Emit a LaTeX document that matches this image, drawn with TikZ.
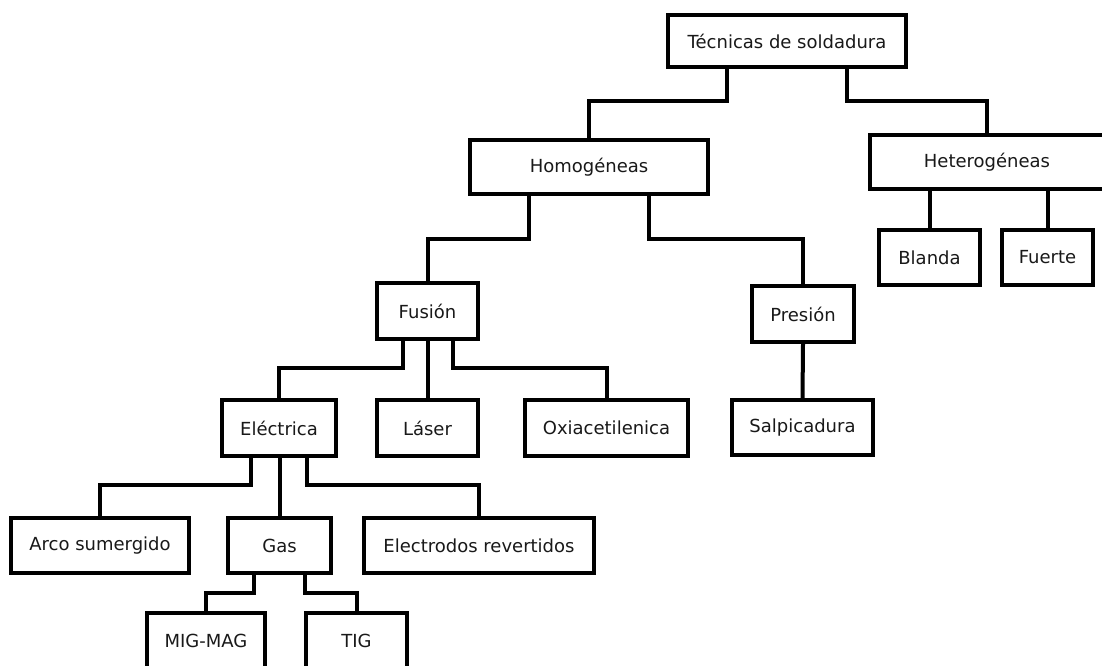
\documentclass[tikz,border=0pt]{standalone}
\usepackage{fontspec}
\setmainfont{DejaVu Sans}
\begin{document}
\begin{tikzpicture}[x=1pt,y=-1pt,
  box/.style={draw=black, line width=4pt, inner sep=0pt, fill=white,
    font=\fontsize{18}{20}\selectfont, text=black!90},
  link/.style={line width=4pt, line join=miter}]
\useasboundingbox (0,0) rectangle (1102,666);
\clip (0,0) rectangle (1102,666);
\fill[white] (0,0) rectangle (1102,666);
% nodes
\node[box, minimum width=238pt, minimum height=52pt] (tec) at (787,41) {Técnicas de soldadura};
\node[box, minimum width=238pt, minimum height=54pt] (hom) at (589,167) {Homogéneas};
\node[box, minimum width=234pt, minimum height=54pt] (het) at (987,162) {Heterogéneas};
\node[box, minimum width=101pt, minimum height=55pt] (bla) at (929.5,257.5) {Blanda};
\node[box, minimum width=91pt, minimum height=55pt] (fue) at (1047.5,257.5) {Fuerte};
\node[box, minimum width=101pt, minimum height=56pt] (fus) at (427.5,311) {Fusión};
\node[box, minimum width=102pt, minimum height=56pt] (pre) at (803,314) {Presión};
\node[box, minimum width=114pt, minimum height=56pt] (ele) at (279,428) {Eléctrica};
\node[box, minimum width=101pt, minimum height=56pt] (las) at (427.5,428) {Láser};
\node[box, minimum width=163pt, minimum height=56pt] (oxi) at (606.5,428) {Oxiacetilenica};
\node[box, minimum width=141pt, minimum height=55pt] (sal) at (802.5,427.5) {Salpicadura};
\node[box, minimum width=178pt, minimum height=55pt] (arc) at (100,545.5) {Arco sumergido};
\node[box, minimum width=103pt, minimum height=55pt] (gas) at (279.5,545.5) {Gas};
\node[box, minimum width=230pt, minimum height=55pt] (elr) at (479,545.5) {Electrodos revertidos};
\node[box, minimum width=118pt, minimum height=56pt] (mig) at (206,641) {MIG-MAG};
\node[box, minimum width=101pt, minimum height=56pt] (tig) at (356.5,641) {TIG};
% bus levels
\coordinate (b1) at (0,101);
\coordinate (b2) at (0,239);
\coordinate (b3) at (0,368);
\coordinate (b4) at (0,485);
\coordinate (b5) at (0,593);
% connectors
\draw[link] ([xshift=-60pt]tec.south) |- (b1 -| hom.north) -- (hom.north);
\draw[link] ([xshift=60pt]tec.south) |- (b1 -| het.north) -- (het.north);
\draw[link] (het.south -| bla.north) -- (bla.north);
\draw[link] (het.south -| fue.north) -- (fue.north);
\draw[link] ([xshift=-60pt]hom.south) |- (b2 -| fus.north) -- (fus.north);
\draw[link] ([xshift=60pt]hom.south) |- (b2 -| pre.north) -- (pre.north);
\draw[link] (pre.south) -- (sal.north);
\draw[link] ([xshift=-25pt]fus.south) |- (b3 -| ele.north) -- (ele.north);
\draw[link] (fus.south) -- (las.north);
\draw[link] ([xshift=25pt]fus.south) |- (b3 -| oxi.north) -- (oxi.north);
\draw[link] ([xshift=-28pt]ele.south) |- (b4 -| arc.north) -- (arc.north);
\draw[link] (ele.south) -- (ele.south -| gas.north) -- (gas.north);
\draw[link] ([xshift=28pt]ele.south) |- (b4 -| elr.north) -- (elr.north);
\draw[link] ([xshift=-25.5pt]gas.south) |- (b5 -| mig.north) -- (mig.north);
\draw[link] ([xshift=25.5pt]gas.south) |- (b5 -| tig.north) -- (tig.north);
\end{tikzpicture}
\end{document}
